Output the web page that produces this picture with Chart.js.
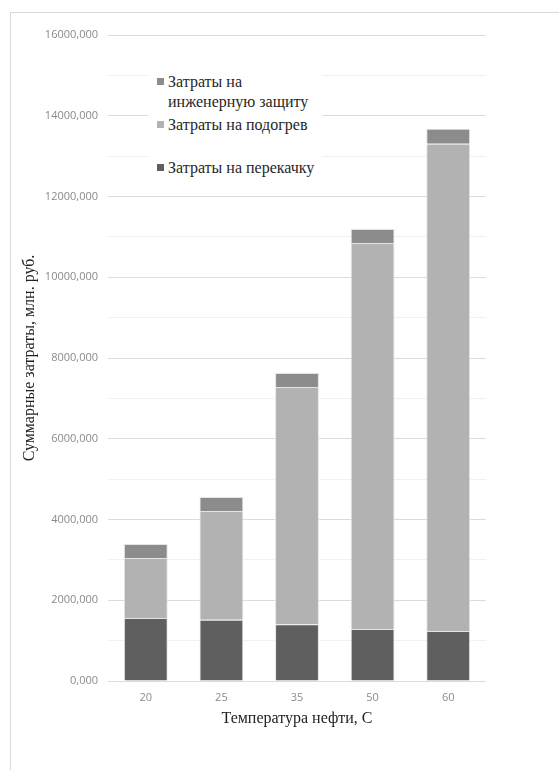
<!DOCTYPE html>
<html>
<head>
<meta charset="utf-8">
<script src="https://cdn.jsdelivr.net/npm/chart.js@4/dist/chart.umd.min.js"></script>
<style>
  body { margin: 0; background: #fff; }
  #wrap { position: relative; width: 559px; height: 770px; }
  #frame { position: absolute; left: 10px; top: 12px; right: 0; bottom: 0;
    border-left: 1px solid #d9d9d9; border-top: 1px solid #d9d9d9; }
  #legend { position: absolute; left: 148px; top: 72px; width: 174px; height: 113px;
    background: #fff; font-family: "Liberation Serif", "Times New Roman", serif; font-size: 16px; color: #262626; }
  #legend .item { position: absolute; left: 9px; line-height: 20px; }
  #legend .box { position: absolute; left: 0; top: 6px; width: 7px; height: 7px; }
  #legend .txt { position: absolute; left: 11px; top: 0; white-space: nowrap; }
</style>
</head>
<body>
<div id="wrap">
  <div id="frame"></div>
  <canvas id="c" width="559" height="770"></canvas>
  <div id="legend"></div>
</div>
<script>
const temps = ['20', '25', '35', '50', '60'];
const pumping = [1560, 1515, 1404, 1288, 1238];
const heating = [1486, 2695, 5878, 9560, 12070];
const protection = [347, 347, 346, 347, 372];
const yTicks = [0, 2000, 4000, 6000, 8000, 10000, 12000, 14000, 16000];

const seriesNames = ['Затраты на перекачку', 'Затраты на подогрев', 'Затраты на инженерную защиту'];
const seriesColors = ['#5f5f5f', '#b2b2b2', '#8c8c8c'];
const serif = "'Liberation Serif', 'Times New Roman', serif";

const fmt = v => v.toFixed(3).replace('.', ',');

const ctx = document.getElementById('c').getContext('2d');
new Chart(ctx, {
  type: 'bar',
  data: {
    labels: temps,
    datasets: [pumping, heating, protection].map((d, i) => ({
      label: seriesNames[i],
      data: d,
      backgroundColor: seriesColors[i],
      borderColor: '#e4e4e4',
      borderWidth: 1,
      categoryPercentage: 1,
      barPercentage: 0.58
    }))
  },
  options: {
    responsive: false,
    animation: false,
    layout: { padding: { left: 20, right: 73, top: 35, bottom: 38 } },
    plugins: { legend: { display: false }, tooltip: { enabled: false } },
    scales: {
      x: {
        stacked: true,
        afterFit: s => { s.height = 51; },
        grid: { display: false, drawTicks: false },
        border: { display: false },
        ticks: { color: '#8a8a8a', font: { family: 'Open Sans', size: 11 }, padding: 10 },
        title: { display: true, text: 'Температура нефти, С', color: '#222',
          font: { family: serif, size: 16 }, padding: { top: 4 } }
      },
      y: {
        stacked: true,
        min: 0, max: 16000,
        afterFit: s => { s.width = 88; },
        afterBuildTicks: s => { s.ticks = Array.from({ length: 17 }, (_, k) => ({ value: k * 1000 })); },
        border: { display: false },
        grid: {
          drawTicks: false,
          color: c => (c.tick && yTicks.includes(c.tick.value)) ? '#dcdcdc' : '#f1f1f1',
          lineWidth: 1
        },
        ticks: {
          color: '#8a8a8a', font: { family: 'Open Sans', size: 11 }, padding: 10,
          callback: v => yTicks.includes(v) ? fmt(v) : ''
        },
        title: { display: true, text: 'Суммарные затраты, млн. руб.', color: '#222',
          font: { family: serif, size: 16 }, padding: { top: 0, bottom: 14 } }
      }
    }
  }
});

// legend, top entry first as in the original
const legend = document.getElementById('legend');
const legendRows = [
  { i: 2, top: 0, text: 'Затраты на<br>инженерную защиту' },
  { i: 1, top: 43, text: 'Затраты на подогрев' },
  { i: 0, top: 86, text: 'Затраты на перекачку' }
];
legendRows.forEach(r => {
  const el = document.createElement('div');
  el.className = 'item';
  el.style.top = r.top + 'px';
  el.innerHTML = '<span class="box" style="background:' + seriesColors[r.i] + '"></span><span class="txt">' + r.text + '</span>';
  legend.appendChild(el);
});
</script>
</body>
</html>
